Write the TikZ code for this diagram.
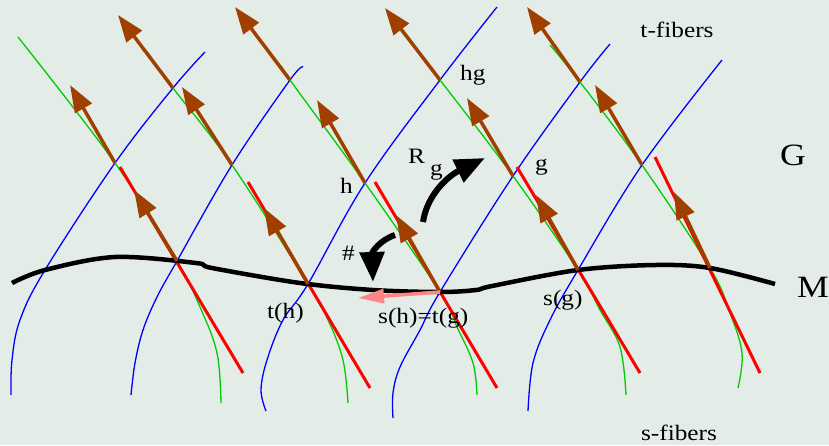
\documentclass[tikz,border=0pt]{standalone}
\usepackage{fontspec}
\setmainfont{Liberation Serif}[FakeStretch=1.15]
\usepackage{xcolor}
\definecolor{paper}{HTML}{E4ECE8}
\definecolor{sblue}{HTML}{0000FF}
\definecolor{tgreen}{HTML}{00CC00}
\definecolor{vecbrown}{HTML}{A04000}
\definecolor{pinkvec}{HTML}{FF8585}
\usetikzlibrary{arrows.meta}

\begin{document}
\begin{tikzpicture}[x=1pt, y=-1pt,
    sfiber/.style={sblue, line width=1.3pt},
    tfiber/.style={tgreen, line width=1.3pt},
    tangent/.style={red, line width=3pt},
    vec/.style={vecbrown, line width=3.5pt, -{Triangle[length=27pt, width=19pt]}},
    bigarrow/.style={black, line width=6pt, -{Triangle[length=30pt, width=24pt]}},
    lbl/.style={inner sep=0pt, anchor=base west, font=\fontsize{22}{24}\selectfont},
    biglbl/.style={inner sep=0pt, anchor=base west, font=\fontsize{31}{33}\selectfont}
]
    \path[use as bounding box, fill=paper] (0,0) rectangle (829,445);

    % points
    \coordinate (x1) at (115,163);
    \coordinate (x2) at (173,88);
    \coordinate (m1) at (177,261);
    \coordinate (x3) at (232,165);
    \coordinate (x4) at (290,80);
    \coordinate (m2) at (308,284);
    \coordinate (h) at (365,183);
    \coordinate (hg) at (440,80);
    \coordinate (m3) at (440,292);
    \coordinate (g) at (513,176);
    \coordinate (m4) at (578,270);
    \coordinate (x5) at (580,82);
    \coordinate (x6) at (642,165);
    \coordinate (m5) at (710,268);

    % s-fibers
    \draw[sfiber] plot[smooth, tension=0.6] coordinates {(205,52) (x2) (x1) (45,270) (20,320) (12,360) (11,395)};
    \draw[sfiber] plot[smooth, tension=0.6] coordinates {(303,67) (x4) (x3) (m1) (157,297) (143,330) (135,363) (131,395)};
    \draw[sfiber] plot[smooth, tension=0.6] coordinates {(497,7) (hg) (h) (m2) (283,320) (267,360) (261,390) (266,411)};
    \draw[sfiber] plot[smooth, tension=0.6] coordinates {(610,44) (x5) (g) (m3) (420,330) (400,367) (393,393) (393,418)};
    \draw[sfiber] plot[smooth, tension=0.6] coordinates {(722,60) (x6) (m4) (550,320) (533,363) (528,411)};

    % t-fibers
    \draw[tfiber] plot[smooth, tension=0.6] coordinates {(18,37) (x1) (m1) (200,307) (217,353) (221,403)};
    \draw[tfiber] plot[smooth, tension=0.6] coordinates {(147,52) (x2) (x3) (m2) (328,320) (343,360) (348,403)};
    \draw[tfiber] plot[smooth, tension=0.6] coordinates {(282,67) (x4) (h) (m3) (457,327) (473,363) (477,395)};
    \draw[tfiber] plot[smooth, tension=0.6] coordinates {(387,13) (hg) (g) (m4) (600,310) (620,347) (626,395)};
    \draw[tfiber] plot[smooth, tension=0.6] coordinates {(550,45) (x5) (x6) (m5) (730,313) (742,353) (738,388)};

    % tangent spaces along M
    \draw[tangent] (120,167) -- (243,373);
    \draw[tangent] (248,182) -- (370,388);
    \draw[tangent] (375,182) -- (497,388);
    \draw[tangent] (517,167) -- (640,373);
    \draw[tangent] (655,157) -- (760,373);

    % the base M
    \draw[black, line width=4.5pt] plot[smooth, tension=0.55] coordinates {(12,283) (45,270) (115,257) (196,263) (212,268) (300,283) (373,290) (m3) (476,290) (492,286) (m4) (655,265) (m5) (775,284)};

    % vector field
    \draw[vec] (x1) -- ++(-45,-78);
    \draw[vec] (x2) -- ++(-55,-73);
    \draw[vec] (m1) -- ++(-43,-71);
    \draw[vec] (x3) -- ++(-50,-78);
    \draw[vec] (x4) -- ++(-55,-73);
    \draw[vec] (m2) -- ++(-44,-76);
    \draw[vec] (h) -- ++(-48,-83);
    \draw[vec] (hg) -- ++(-55,-72);
    \draw[vec] (m3) -- ++(-44,-77);
    \draw[vec] (g) -- ++(-46,-78);
    \draw[vec] (m4) -- ++(-42,-75);
    \draw[vec] (x5) -- ++(-53,-75);
    \draw[vec] (x6) -- ++(-47,-80);
    \draw[vec] (m5) -- ++(-36,-76);

    \draw[pinkvec, line width=3.5pt, -{Triangle[length=26pt, width=14pt]}] (m3) -- ++(-82,6);

    \draw[bigarrow] (423,222) .. controls (427,195) and (448,176) .. (485,158);
    \draw[bigarrow] (395,235) .. controls (380,240) and (372,252) .. (373,282);

    % Labels
    \node[lbl, anchor=base] (tfib) at (677,37) {t-fibers};
    \node[lbl, anchor=base] (sfib) at (679,440) {s-fibers};
    \node[biglbl, anchor=base] (Glbl) at (793,165) {G};
    \node[biglbl] (Mlbl) at (797,297) {M};
    \node[lbl] (hglbl) at (460,80) {hg};
    \node[lbl] (glbl) at (535,170) {g};
    \node[lbl] (hlbl) at (340,193) {h};
    \node[lbl] (Rlbl) at (408,163) {R};
    \node[lbl] (Rsub) at (430,175) {g};
    \node[lbl] (sharp) at (342,260) {\#};
    \node[lbl] (thlbl) at (267,318) {t(h)};
    \node[lbl] (shlbl) at (378,323) {s(h)=t(g)};
    \node[lbl] (sglbl) at (543,305) {s(g)};
\end{tikzpicture}
\end{document}
